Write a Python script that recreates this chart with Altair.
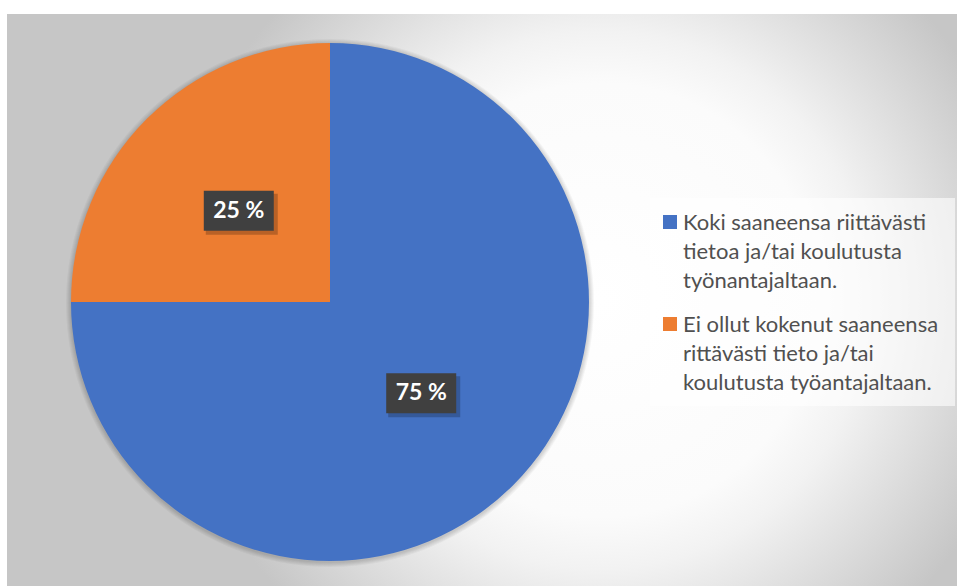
import altair as alt
import pandas as pd

# ---- data ----
categories = [
    "Koki saaneensa riittävästi\ntietoa ja/tai koulutusta\ntyönantajaltaan.",
    "Ei ollut kokenut saaneensa\nrittävästi tieto ja/tai\nkoulutusta työantajaltaan.",
]
values = [75, 25]
colors = ["#4472C4", "#ED7D31"]

df = pd.DataFrame({"category": categories, "value": values, "idx": list(range(len(values)))})

# ---- layout constants ----
W, H = 950, 572
CX, CY, R = 323, 288, 259
LR = 129            # label radius
GX, GY, GS = 593, 286, 700   # background gradient centre and half-size

color_scale = alt.Scale(domain=categories, range=colors)
one = pd.DataFrame({"a": [0]})

gradient = {
    "gradient": "radial",
    "x1": 0.5, "y1": 0.5, "r1": 0,
    "x2": 0.5, "y2": 0.5, "r2": 0.31,
    "stops": [
        {"offset": 0.0, "color": "#ffffff"},
        {"offset": 0.5, "color": "#fbfbfb"},
        {"offset": 0.62, "color": "#f2f2f2"},
        {"offset": 1.0, "color": "#c6c6c6"},
    ],
}

bg = alt.Chart(one).mark_rect(clip=True, fill=gradient).encode(
    x=alt.value(GX - GS), x2=alt.value(GX + GS),
    y=alt.value(GY - GS), y2=alt.value(GY + GS),
)

# soft shadow around the pie
shadows = [
    alt.Chart(one).mark_arc(theta=0, theta2=6.2832, radius=R + d, fill="#000000", opacity=0.035)
    .encode(x=alt.value(CX), y=alt.value(CY + 1))
    for d in (5, 4, 3, 2, 1)
]

base = alt.Chart(df)

pie = base.mark_arc(radius=R).encode(
    theta=alt.Theta("value:Q", stack=True),
    color=alt.Color("category:N", scale=color_scale, legend=None),
    order=alt.Order("idx:Q"),
    x=alt.value(CX), y=alt.value(CY),
)

lab = base.transform_joinaggregate(total="sum(value)").transform_window(
    cum="sum(value)", sort=[alt.SortField("idx")], frame=[None, 0]
).transform_calculate(
    mid="(datum.cum - datum.value/2) / datum.total * 2 * PI",
    lx=f"{CX} + {LR} * sin(datum.mid)",
    ly=f"{CY} - {LR} * cos(datum.mid)",
    bx1="datum.lx - 35", bx2="datum.lx + 35",
    by1="datum.ly - 20", by2="datum.ly + 20",
    sx1="datum.lx - 33", sx2="datum.lx + 39",
    sy1="datum.ly - 17", sy2="datum.ly + 24",
    pct="format(datum.value / datum.total * 100, '.0f') + ' %'",
)

box_shadow = lab.mark_rect(color="#000000", opacity=0.22).encode(
    x=alt.X("sx1:Q", scale=None, axis=None), x2="sx2:Q",
    y=alt.Y("sy1:Q", scale=None, axis=None), y2="sy2:Q",
)
box = lab.mark_rect(color="#404040").encode(
    x=alt.X("bx1:Q", scale=None, axis=None), x2="bx2:Q",
    y=alt.Y("by1:Q", scale=None, axis=None), y2="by2:Q",
)
lab_text = lab.mark_text(
    font="Lato", fontSize=23, fontWeight="bold", color="#ffffff",
    align="center", baseline="middle",
).encode(
    x=alt.X("lx:Q", scale=None, axis=None),
    y=alt.Y("ly:Q", scale=None, axis=None),
    text="pct:N",
)

# ---- legend (drawn manually for multi-line labels) ----
leg_box = alt.Chart(one).mark_rect(fill="#ffffff", opacity=0.6).encode(
    x=alt.value(643), x2=alt.value(948), y=alt.value(184), y2=alt.value(392)
)
leg = base.transform_calculate(
    ty="216 + datum.idx * 102",
    sy="208 + datum.idx * 102",
)
leg_sq = leg.mark_square(size=196, opacity=1).encode(
    x=alt.value(663),
    y=alt.Y("sy:Q", scale=None, axis=None),
    color=alt.Color("category:N", scale=color_scale, legend=None),
)
leg_txt = leg.mark_text(
    align="left", baseline="alphabetic", lineBreak="\n", lineHeight=29,
    font="Lato", fontSize=22, color="#505050",
).encode(
    x=alt.value(676),
    y=alt.Y("ty:Q", scale=None, axis=None),
    text="category:N",
)

chart = alt.layer(
    bg, *shadows, pie, box_shadow, box, lab_text, leg_box, leg_sq, leg_txt
).properties(
    width=W, height=H,
    padding={"left": 7, "top": 14, "right": 0, "bottom": 0},
    autosize="none",
    background="#ffffff",
).configure_view(stroke="#d9d9d9")

chart.save("out.html", embed_options={"renderer": "svg", "actions": False})
